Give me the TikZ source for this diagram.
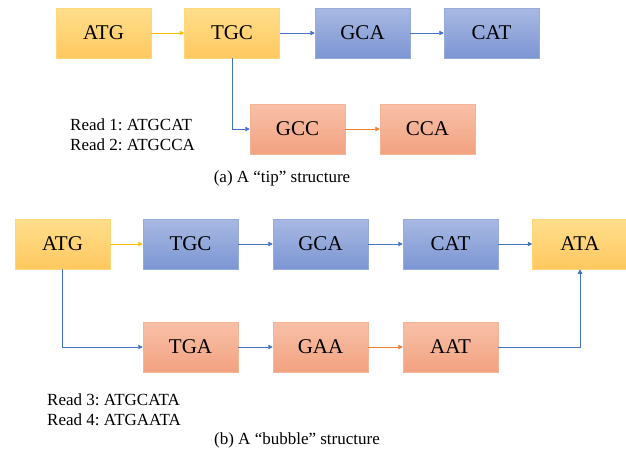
\documentclass[tikz,border=0pt]{standalone}
\usepackage{fontspec}
\setmainfont{Liberation Serif}
\usetikzlibrary{arrows.meta}
\frenchspacing

\definecolor{ytop}{RGB}{255,222,140}
\definecolor{ybot}{RGB}{255,200,95}
\definecolor{yedge}{RGB}{255,215,120}
\definecolor{btop}{RGB}{168,185,226}
\definecolor{bbot}{RGB}{124,150,212}
\definecolor{bedge}{RGB}{150,170,220}
\definecolor{otop}{RGB}{248,192,168}
\definecolor{obot}{RGB}{242,162,128}
\definecolor{oedge}{RGB}{245,180,150}
\definecolor{yline}{RGB}{255,190,0}
\definecolor{bline}{RGB}{68,114,196}
\definecolor{oline}{RGB}{237,125,49}

\tikzset{
  box/.style={minimum width=95pt, minimum height=50pt, inner sep=0pt,
    font=\fontsize{21}{24}\selectfont, line width=0.5pt},
  ybox/.style={box, draw=yedge, top color=ytop, bottom color=ybot},
  bbox/.style={box, draw=bedge, top color=btop, bottom color=bbot},
  obox/.style={box, draw=oedge, top color=otop, bottom color=obot},
  conn/.style={-{Triangle[length=4.5pt,width=4.5pt]}, line width=0.8pt},
  yconn/.style={conn, draw=yline},
  bconn/.style={conn, draw=bline},
  oconn/.style={conn, draw=oline},
  label/.style={font=\fontsize{17}{20}\selectfont, inner sep=0pt},
}

\begin{document}
\begin{tikzpicture}[x=1pt, y=-1pt]
\useasboundingbox (0,0) rectangle (626,456);

% (a) tip structure
\node[ybox] (tATG) at (103.5,33) {ATG};
\node[ybox] (tTGC) at (232,33) {TGC};
\node[bbox] (tGCA) at (362.5,33) {GCA};
\node[bbox] (tCAT) at (491.5,33) {CAT};
\node[obox] (tGCC) at (297.5,129) {GCC};
\node[obox] (tCCA) at (427.5,129) {CCA};

\draw[yconn] (tATG) -- (tTGC);
\draw[bconn] (tTGC) -- (tGCA);
\draw[bconn] (tGCA) -- (tCAT);
\draw[bconn] (tTGC.south) |- (tGCC.west);
\draw[oconn] (tGCC) -- (tCCA);

\node[label, anchor=west] (r1) at (70,125) {Read 1: ATGCAT};
\node[label, anchor=west] (r2) at (70,145) {Read 2: ATGCCA};
\node[label] (capa) at (282,178) {(a) A “tip” structure};

% (b) bubble structure
\node[ybox] (bATG) at (62.5,244) {ATG};
\node[bbox] (bTGC) at (190.5,244) {TGC};
\node[bbox] (bGCA) at (320.5,244) {GCA};
\node[bbox] (bCAT) at (450.5,244) {CAT};
\node[ybox] (bATA) at (580,244) {ATA};
\node[obox] (bTGA) at (190.5,347) {TGA};
\node[obox] (bGAA) at (320.5,347) {GAA};
\node[obox] (bAAT) at (450.5,347) {AAT};

\draw[yconn] (bATG) -- (bTGC);
\draw[bconn] (bTGC) -- (bGCA);
\draw[bconn] (bGCA) -- (bCAT);
\draw[bconn] (bCAT) -- (bATA);
\draw[bconn] (bATG.south) |- (bTGA.west);
\draw[bconn] (bTGA) -- (bGAA);
\draw[oconn] (bGAA) -- (bAAT);
\draw[bconn] (bAAT.east) -| (bATA.south);

\node[label, anchor=west] (r3) at (47,400) {Read 3: ATGCATA};
\node[label, anchor=west] (r4) at (47,420) {Read 4: ATGAATA};
\node[label] (capb) at (297,440) {(b) A “bubble” structure};
\end{tikzpicture}
\end{document}
